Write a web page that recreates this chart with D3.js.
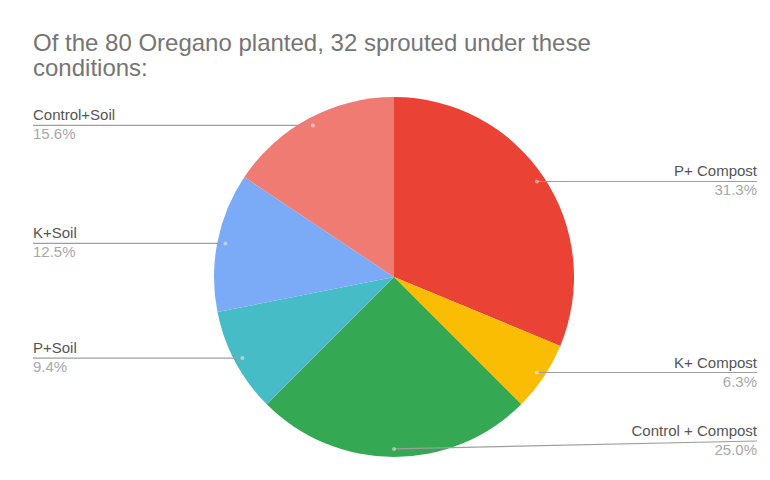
<!DOCTYPE html>
<html>
<head>
<meta charset="utf-8">
<script src="https://cdn.jsdelivr.net/npm/d3@7/dist/d3.min.js"></script>
<style>
  html, body { margin: 0; padding: 0; background: #fff; }
  svg { display: block; font-family: "Liberation Sans", Arial, sans-serif; }
</style>
</head>
<body>
<svg id="chart" width="770" height="480"></svg>
<script>
// ---- Data ----
const titleLines = ["Of the 80 Oregano planted, 32 sprouted under these", "conditions:"];
const categories = ["P+ Compost", "K+ Compost", "Control + Compost", "P+Soil", "K+Soil", "Control+Soil"];
const counts = [10, 2, 8, 3, 4, 5];
const percentLabels = ["31.3%", "6.3%", "25.0%", "9.4%", "12.5%", "15.6%"];
const colors = ["#ea4335", "#fbbc04", "#34a853", "#46bdc6", "#7baaf7", "#f07b72"];

// ---- Layout ----
const W = 770, H = 480;
const cx = 394, cy = 277, R = 180;
const leftX = 33, rightX = 757, maxLineY = 441;

const svg = d3.select("#chart");

// Title
svg.append("g").selectAll("text")
  .data(titleLines)
  .join("text")
  .attr("x", 33)
  .attr("y", (d, i) => 51 + i * 25)
  .attr("font-size", 24)
  .attr("fill", "#757575")
  .text(d => d);

const data = categories.map((c, i) => ({ name: c, value: counts[i], pct: percentLabels[i], color: colors[i] }));

const pie = d3.pie().sort(null).value(d => d.value);
const arcs = pie(data);
const arc = d3.arc().innerRadius(0).outerRadius(R);

const g = svg.append("g").attr("transform", `translate(${cx},${cy})`);
g.selectAll("path")
  .data(arcs)
  .join("path")
  .attr("d", arc)
  .attr("fill", d => d.data.color)
  .attr("stroke", "none");

// Labels with leader lines
const dotR = R * 0.955;
const labels = svg.append("g");
arcs.forEach(a => {
  const mid = (a.startAngle + a.endAngle) / 2;
  const dx = cx + Math.sin(mid) * dotR;
  const dy = cy - Math.cos(mid) * dotR;
  const right = Math.sin(mid) > 0;
  const ly = Math.min(dy, maxLineY);
  const endX = right ? rightX : leftX;

  labels.append("line")
    .attr("x1", dx).attr("y1", dy)
    .attr("x2", endX).attr("y2", ly)
    .attr("stroke", "#9e9e9e")
    .attr("stroke-width", 1.2);

  labels.append("circle")
    .attr("cx", dx).attr("cy", dy).attr("r", 2)
    .attr("fill", "#ffffff").attr("fill-opacity", 0.45);

  labels.append("text")
    .attr("x", endX).attr("y", ly - 5)
    .attr("text-anchor", right ? "end" : "start")
    .attr("font-size", 15)
    .attr("fill", "#555555")
    .text(a.data.name);

  labels.append("text")
    .attr("x", endX).attr("y", ly + 14)
    .attr("text-anchor", right ? "end" : "start")
    .attr("font-size", 15)
    .attr("fill", "#a8a8a8")
    .text(a.data.pct);
});
</script>
</body>
</html>
